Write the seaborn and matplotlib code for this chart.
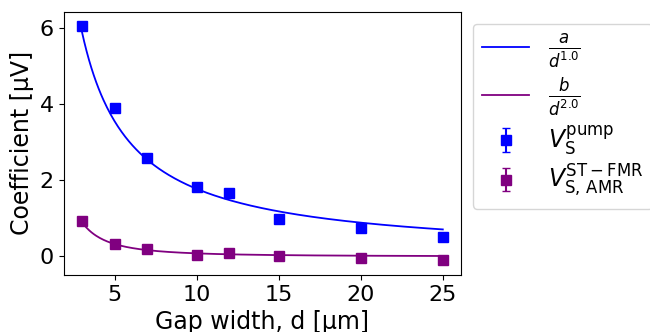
import numpy as np
import matplotlib
matplotlib.use("Agg")
import matplotlib.pyplot as plt
import seaborn as sns

gap_width = [3, 5, 7, 10, 12, 15, 20, 25]
v_pump = [6.07, 3.92, 2.59, 1.84, 1.66, 0.98, 0.76, 0.51]
v_pump_err = [0.05, 0.04, 0.04, 0.04, 0.04, 0.04, 0.04, 0.04]
v_amr = [0.93, 0.34, 0.20, 0.05, 0.08, 0.00, -0.04, -0.08]
v_amr_err = [0.09, 0.05, 0.03, 0.03, 0.03, 0.06, 0.03, 0.09]

# fitted coefficients of the power-law curves
fit_a = 17.8
fit_b = 8.2

plt.rcParams['font.size'] = 17
plt.rcParams['xtick.labelsize'] = 16
plt.rcParams['ytick.labelsize'] = 16
plt.rcParams['font.family'] = ['DejaVu Sans']

fig, ax = plt.subplots(figsize=(6.5, 3.32), dpi=100)
fig.subplots_adjust(left=0.098, right=0.709, bottom=0.172, top=0.964)

# power-law fits drawn over the measured range
d_fine = np.linspace(min(gap_width), max(gap_width), 300)
sns.lineplot(x=d_fine, y=fit_a / d_fine ** 1.0, color='blue', lw=1.3,
             label=r'$\frac{a}{d^{1.0}}$', ax=ax)
sns.lineplot(x=d_fine, y=fit_b / d_fine ** 2.0, color='purple', lw=1.3,
             label=r'$\frac{b}{d^{2.0}}$', ax=ax)

ax.errorbar(gap_width, v_pump, yerr=v_pump_err, fmt='s', color='blue',
            markersize=7, capsize=3, label=r'$V_\mathrm{S}^\mathrm{pump}$')
ax.errorbar(gap_width, v_amr, yerr=v_amr_err, fmt='s', color='purple',
            markersize=7, capsize=3,
            label=r'$V_{\mathrm{S,\,AMR}}^{\mathrm{ST}-\mathrm{FMR}}$')

ax.set_xticks([5, 10, 15, 20, 25])
ax.set_xlabel('Gap width, d [μm]')
ax.set_ylabel('Coefficient [μV]')
ax.legend(loc='upper left', bbox_to_anchor=(1.0, 1.0), fontsize=17,
          labelspacing=0.25)

fig.savefig('out.png', dpi=100, facecolor='white')
